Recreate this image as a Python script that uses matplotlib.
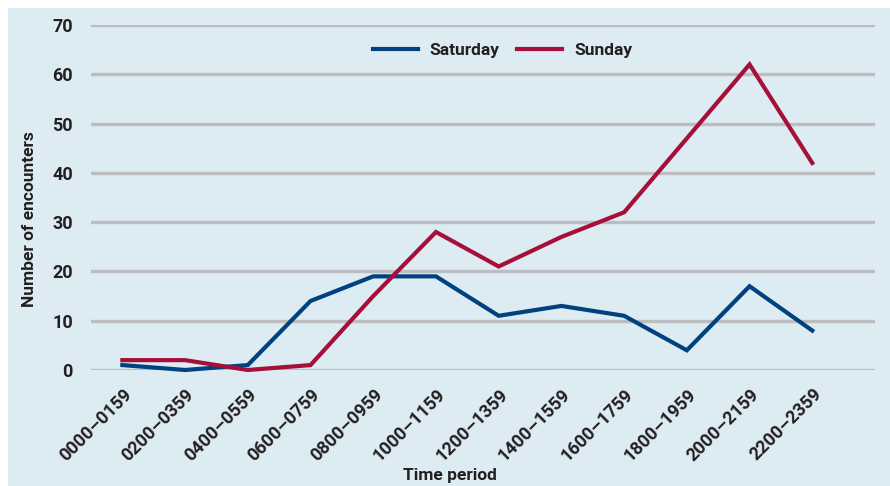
import numpy as np
import matplotlib.pyplot as plt
from matplotlib.patches import Rectangle

periods = ['0000\u20130159', '0200\u20130359', '0400\u20130559', '0600\u20130759',
           '0800\u20130959', '1000\u20131159', '1200\u20131359', '1400\u20131559',
           '1600\u20131759', '1800\u20131959', '2000\u20132159', '2200\u20132359']
saturday = [1, 0, 1, 14, 19, 19, 11, 13, 11, 4, 17, 8]
sunday = [2, 2, 0, 1, 15, 28, 21, 27, 32, 47, 62, 42]

plt.rcParams['font.family'] = ['Roboto', 'DejaVu Sans']
plt.rcParams['font.weight'] = 'bold'
plt.rcParams['axes.labelweight'] = 'bold'
text_col = '#231f20'
bg = '#ddebf2'

fig = plt.figure(figsize=(8.9, 4.86), dpi=100, facecolor='white')
# shaded panel behind the chart
fig.patches.append(Rectangle((8 / 890, 0), 1, 1 - 8 / 486, transform=fig.transFigure,
                             facecolor=bg, edgecolor='none', zorder=-10))

ax = fig.add_axes([91 / 890, 1 - 370 / 486, (875 - 91) / 890, 345 / 486])
ax.set_facecolor('none')
ax.set_zorder(5)

x = np.arange(len(periods))
ax.plot(x, saturday, color='#00427f', lw=3.0, label='Saturday', solid_joinstyle='miter',
        clip_on=False, zorder=3)
ax.plot(x, sunday, color='#a50f3a', lw=3.0, label='Sunday', solid_joinstyle='miter',
        clip_on=False, zorder=3)

ax.set_xlim(-0.5, 12.0)
ax.set_ylim(0, 70)
ax.set_yticks(range(0, 71, 10))
ax.set_xticks(x)
ax.set_xticklabels(periods, rotation=45, ha='right', rotation_mode='anchor')

ax.grid(axis='y', color='#bcbdc0', lw=2.4, zorder=1)
ax.set_axisbelow(True)
for s in ax.spines.values():
    s.set_visible(False)
ax.tick_params(length=0, labelsize=13, colors=text_col)
ax.tick_params(axis='y', pad=13)
ax.tick_params(axis='x', pad=11)

ax.set_ylabel('Number of encounters', fontsize=12.5, color=text_col)
ax.set_xlabel('Time period', fontsize=12.5, color=text_col)
ax.yaxis.set_label_coords(-0.069, 0.438)
ax.xaxis.set_label_coords(0.458, -0.285)

ax.legend(loc='center', bbox_to_anchor=(0.525, 0.925), ncol=2, frameon=False,
          fontsize=12.5, handlelength=2.6, handletextpad=0.7, columnspacing=1.0,
          labelcolor=text_col)

fig.savefig('out.png', dpi=100, facecolor='white')
